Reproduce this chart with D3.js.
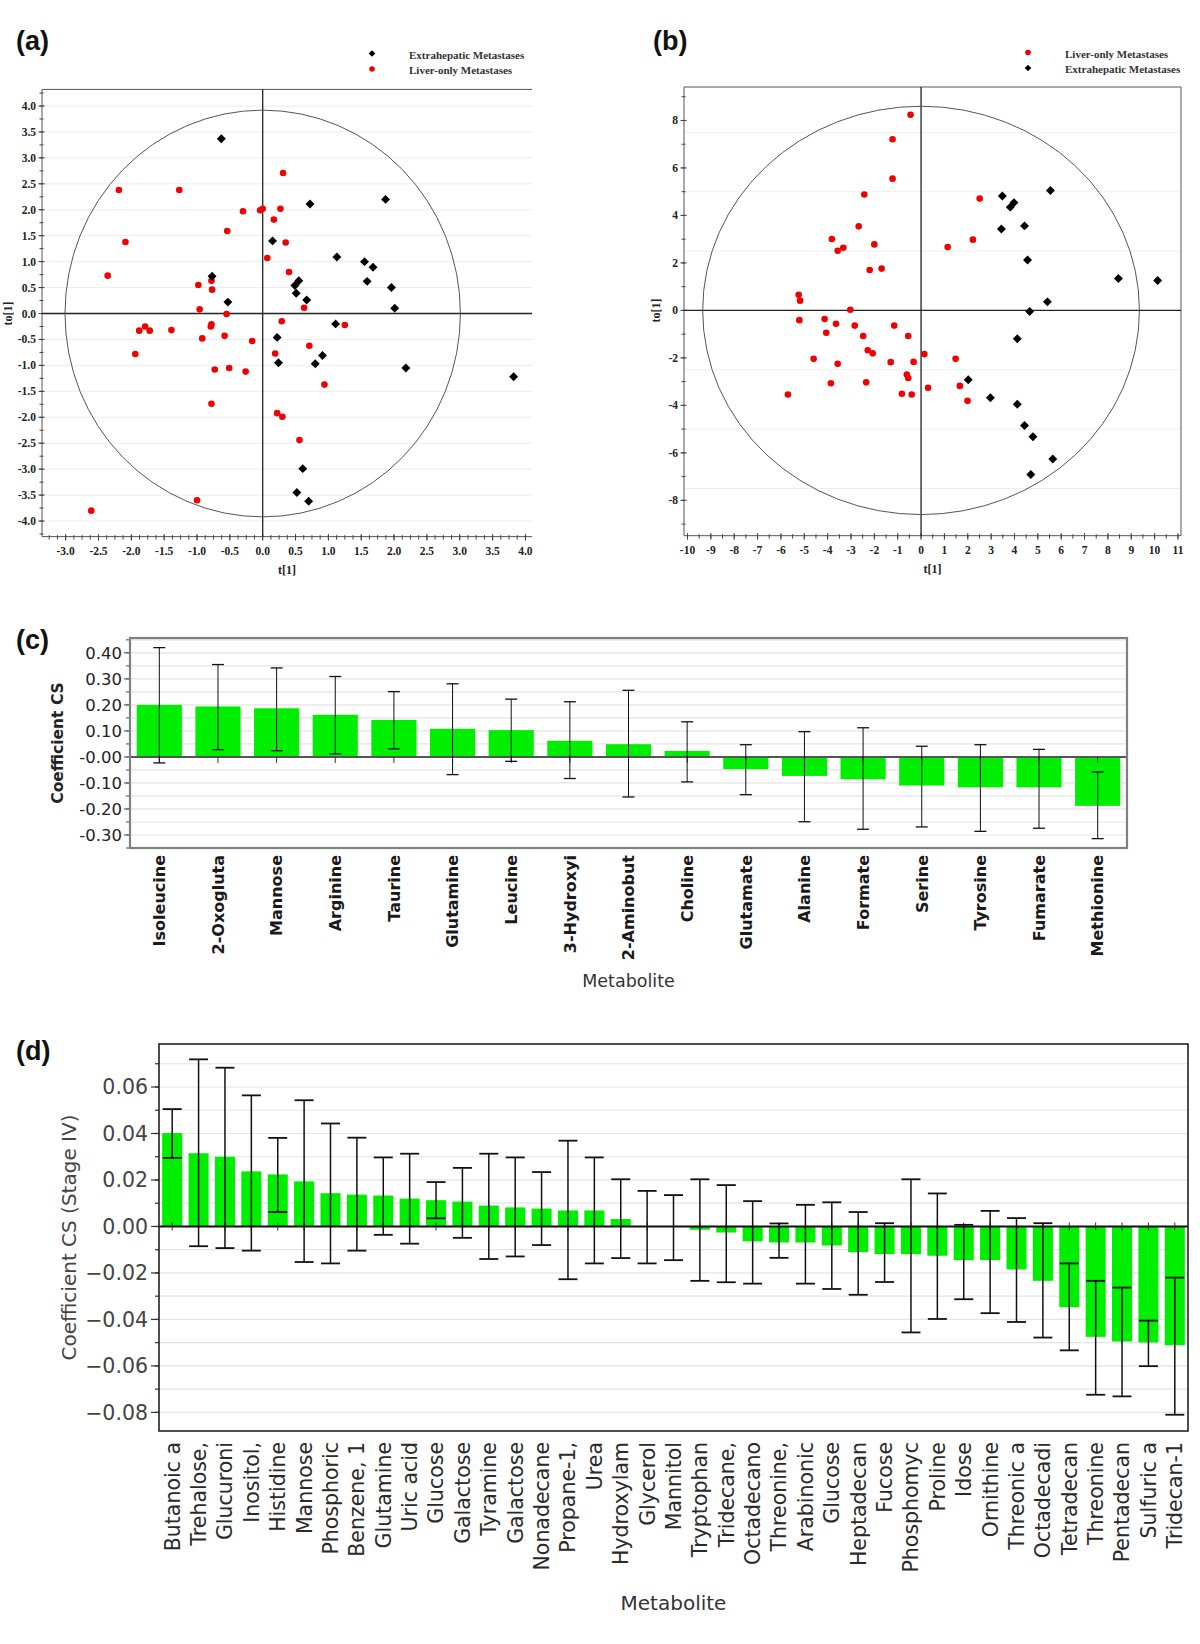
<!DOCTYPE html>
<html><head><meta charset="utf-8">
<script src="https://cdn.jsdelivr.net/npm/d3@7"></script>
<style>body{margin:0;background:#fff}svg{display:block}</style>
</head><body>
<script>
// ---------- Panel (a) data ----------
const aExtraX = [-0.63,0.72,1.87,0.15,1.13,1.55,1.68,1.59,1.96,-0.77,0.49,0.55,0.51,0.67,-0.53,2.01,1.11,0.22,0.24,0.80,0.91,2.18,3.82,0.61,0.52,0.70];
const aExtraY = [3.37,2.11,2.20,1.40,1.09,1.00,0.89,0.62,0.50,0.72,0.54,0.63,0.39,0.26,0.22,0.10,-0.20,-0.46,-0.95,-0.97,-0.81,-1.05,-1.22,-2.99,-3.45,-3.62];
const aLiverX = [0.31,-2.19,-1.27,-0.30,-0.04,0.00,0.27,0.17,-0.54,-2.09,0.35,0.07,-2.36,0.40,-0.98,-0.78,-0.77,-0.96,-0.55,0.63,0.29,-1.88,-1.79,-1.72,-1.39,-0.78,-0.79,-0.92,-0.58,-0.16,1.25,-1.94,0.19,0.71,-0.73,-0.51,-0.26,0.94,-0.78,0.22,0.30,0.56,-1.00,-2.61];
const aLiverY = [2.71,2.38,2.38,1.97,1.99,2.02,2.02,1.81,1.59,1.38,1.37,1.07,0.73,0.80,0.55,0.63,0.46,0.08,-0.01,0.11,-0.15,-0.33,-0.25,-0.33,-0.32,-0.21,-0.25,-0.48,-0.43,-0.53,-0.22,-0.78,-0.77,-0.62,-1.08,-1.05,-1.12,-1.37,-1.74,-1.92,-1.99,-2.44,-3.60,-3.80];
const aXTickLabels = ["-3.0","-2.5","-2.0","-1.5","-1.0","-0.5","0.0","0.5","1.0","1.5","2.0","2.5","3.0","3.5","4.0"];
const aYTickLabels = ["4.0","3.5","3.0","2.5","2.0","1.5","1.0","0.5","0.0","-0.5","-1.0","-1.5","-2.0","-2.5","-3.0","-3.5","-4.0"];
const aEllipse = [3.01, 3.92];
const aLegend = ["Extrahepatic Metastases","Liver-only Metastases"];

// ---------- Panel (b) data ----------
const bExtraX = [3.48,3.82,3.98,5.54,3.44,4.43,4.56,8.45,10.13,5.41,4.65,4.12,2.02,2.97,4.12,4.43,4.79,5.64,4.70];
const bExtraY = [4.82,4.35,4.54,5.05,3.43,3.56,2.12,1.34,1.26,0.36,-0.05,-1.19,-2.92,-3.68,-3.95,-4.85,-5.32,-6.26,-6.91];
const bLiverX = [-0.45,-1.22,-1.22,-2.43,2.51,-2.67,-3.82,2.22,1.14,-3.57,-3.33,-2.00,-1.69,-2.20,-5.24,-5.18,-3.03,-5.21,-4.13,-3.64,-2.84,-1.15,-4.06,-2.48,-0.55,-2.28,-2.07,-4.60,-3.57,-1.30,-0.32,0.14,1.48,-3.86,-2.35,-0.61,-0.55,-5.70,-0.82,-0.40,0.30,1.66,1.99];
const bLiverY = [8.24,7.21,5.55,4.88,4.71,3.54,3.01,2.98,2.67,2.51,2.64,2.78,1.76,1.70,0.66,0.41,0.03,-0.41,-0.36,-0.56,-0.64,-0.64,-0.94,-1.08,-1.08,-1.68,-1.81,-2.04,-2.25,-2.18,-2.17,-1.84,-2.04,-3.07,-3.03,-2.70,-2.85,-3.54,-3.51,-3.54,-3.26,-3.18,-3.81];
const bXTickLabels = ["-10","-9","-8","-7","-6","-5","-4","-3","-2","-1","0","1","2","3","4","5","6","7","8","9","10","11"];
const bYTickLabels = ["8","6","4","2","0","-2","-4","-6","-8"];
const bGridValues = [7.5,5,2.5,-2.5,-5,-7.5];
const bEllipse = [9.35, 8.6];
const bLegend = ["Liver-only Metastases","Extrahepatic Metastases"];

// ---------- Panel (c) data ----------
const cCategories = ["Isoleucine","2-Oxogluta","Mannose","Arginine","Taurine","Glutamine","Leucine","3-Hydroxyi","2-Aminobut","Choline","Glutamate","Alanine","Formate","Serine","Tyrosine","Fumarate","Methionine"];
const cValues  = [0.200,0.194,0.187,0.162,0.142,0.108,0.103,0.062,0.049,0.023,-0.047,-0.073,-0.086,-0.110,-0.117,-0.117,-0.188];
const cErrHigh = [0.420,0.355,0.342,0.309,0.251,0.281,0.222,0.212,0.256,0.135,0.047,0.097,0.112,0.041,0.047,0.029,-0.058];
const cErrLow  = [-0.023,0.028,0.024,0.012,0.031,-0.068,-0.017,-0.083,-0.154,-0.096,-0.145,-0.249,-0.278,-0.269,-0.286,-0.274,-0.314];
const cYTickLabels = ["0.40","0.30","0.20","0.10","-0.00","-0.10","-0.20","-0.30"];

// ---------- Panel (d) data ----------
const dCategories = ["Butanoic a","Trehalose,","Glucuroni","Inositol,","Histidine","Mannose","Phosphoric","Benzene, 1","Glutamine","Uric acid","Glucose","Galactose","Tyramine","Galactose","Nonadecane","Propane-1,","Urea","Hydroxylam","Glycerol","Mannitol","Tryptophan","Tridecane,","Octadecano","Threonine,","Arabinonic","Glucose","Heptadecan","Fucose","Phosphomyc","Proline","Idose","Ornithine","Threonic a","Octadecadi","Tetradecan","Threonine","Pentadecan","Sulfuric a","Tridecan-1"];
const dValues  = [0.0402,0.0315,0.0300,0.0237,0.0224,0.0194,0.0143,0.0137,0.0133,0.0120,0.0113,0.0107,0.0090,0.0082,0.0077,0.0069,0.0069,0.0032,0,0,-0.0014,-0.0026,-0.0064,-0.0069,-0.0069,-0.0082,-0.0111,-0.0119,-0.0119,-0.0126,-0.0145,-0.0145,-0.0185,-0.0234,-0.0347,-0.0475,-0.0495,-0.0499,-0.0511];
const dErrHigh = [0.0505,0.0719,0.0683,0.0564,0.0381,0.0543,0.0443,0.0382,0.0297,0.0313,0.0191,0.0252,0.0313,0.0297,0.0234,0.0369,0.0297,0.0203,0.0153,0.0135,0.0203,0.0178,0.0109,0.0013,0.0093,0.0104,0.0062,0.0014,0.0203,0.0142,0.0007,0.0067,0.0036,0.0014,-0.0159,-0.0234,-0.0263,-0.0405,-0.0220];
const dErrLow  = [0.0295,-0.0085,-0.0093,-0.0104,0.0062,-0.0153,-0.0159,-0.0104,-0.0036,-0.0074,0.0035,-0.0049,-0.0140,-0.0129,-0.0080,-0.0227,-0.0159,-0.0136,-0.0159,-0.0145,-0.0234,-0.0240,-0.0246,-0.0135,-0.0246,-0.0269,-0.0294,-0.0239,-0.0456,-0.0398,-0.0313,-0.0373,-0.0411,-0.0478,-0.0533,-0.0724,-0.0731,-0.0601,-0.0810];
const dYTickLabels = ["0.06","0.04","0.02","0.00","\u22120.02","\u22120.04","\u22120.06","\u22120.08"];

const num = s => +String(s).replace("\u2212","-");
const svg = d3.select("body").append("svg").attr("width",1200).attr("height",1644);
const SERIF = "'Liberation Serif','Times New Roman',serif";
const SANS = "'DejaVu Sans',Verdana,sans-serif";
const GREEN = "#00ee00";

// panel letters
[["(a)",16,50],["(b)",653,50],["(c)",16,649],["(d)",16,1060]].forEach(([t,x,y])=>{
  svg.append("text").attr("x",x).attr("y",y).text(t)
    .attr("font-family","'Liberation Sans',Arial,sans-serif").attr("font-weight","bold")
    .attr("font-size",27).attr("fill","#111");
});

function diamond(g, cx, cy, size){
  g.append("path").attr("d", d3.symbol(d3.symbolSquare, size)())
   .attr("transform",`translate(${cx},${cy}) rotate(45)`).attr("fill","#000");
}

function scatter(o){
  const g = svg.append("g");
  const x = o.x, y = o.y;
  const [xl,xr] = x.range(), [yb,yt] = y.range();
  g.selectAll(null).data(o.grid).join("line")
    .attr("x1",xl).attr("x2",xr).attr("y1",d=>y(d)).attr("y2",d=>y(d))
    .attr("stroke",o.gridColor).attr("stroke-width",1);
  g.append("line").attr("x1",xl).attr("x2",xr).attr("y1",yt).attr("y2",yt).attr("stroke","#555");
  g.append("line").attr("x1",xl).attr("x2",xl).attr("y1",yt).attr("y2",yb).attr("stroke","#555");
  g.append("line").attr("x1",xl).attr("x2",xr).attr("y1",yb).attr("y2",yb).attr("stroke","#555");
  if (o.rightFrame) g.append("line").attr("x1",xr).attr("x2",xr).attr("y1",yt).attr("y2",yb).attr("stroke","#555");
  g.selectAll(null).data(o.xMinor).join("line").attr("x1",d=>x(d)).attr("x2",d=>x(d)).attr("y1",yb-1.5).attr("y2",yb+3).attr("stroke","#444");
  g.selectAll(null).data(o.xLabels).join("line").attr("x1",d=>x(num(d))).attr("x2",d=>x(num(d))).attr("y1",yb-2.5).attr("y2",yb+4).attr("stroke","#444");
  g.selectAll(null).data(o.yMinor).join("line").attr("y1",d=>y(d)).attr("y2",d=>y(d)).attr("x1",xl-2.5).attr("x2",xl+1.5).attr("stroke","#444");
  g.selectAll(null).data(o.yLabels).join("line").attr("y1",d=>y(num(d))).attr("y2",d=>y(num(d))).attr("x1",xl-3.5).attr("x2",xl+2.5).attr("stroke","#444");
  g.selectAll(null).data(o.xLabels).join("text").attr("x",d=>x(num(d))).attr("y",yb+18)
    .attr("text-anchor","middle").text(d=>d)
    .attr("font-family",SERIF).attr("font-weight","bold").attr("font-size",11.5).attr("fill","#222");
  g.selectAll(null).data(o.yLabels).join("text").attr("x",xl-6).attr("y",d=>y(num(d))).attr("dy","0.35em")
    .attr("text-anchor","end").text(d=>d)
    .attr("font-family",SERIF).attr("font-weight","bold").attr("font-size",11.5).attr("fill","#222");
  g.append("text").attr("x",(xl+xr)/2).attr("y",yb+37).attr("text-anchor","middle").text("t[1]")
    .attr("font-family",SERIF).attr("font-weight","bold").attr("font-size",12).attr("fill","#222");
  g.append("text").attr("transform",`translate(${o.yTitleX},${y(0)}) rotate(-90)`).attr("text-anchor","middle").text("to[1]")
    .attr("font-family",SERIF).attr("font-weight","bold").attr("font-size",12).attr("fill","#222");
  g.append("line").attr("x1",x(0)).attr("x2",x(0)).attr("y1",yt).attr("y2",yb).attr("stroke","#222").attr("stroke-width",1.3);
  g.append("line").attr("x1",xl).attr("x2",xr).attr("y1",y(0)).attr("y2",y(0)).attr("stroke","#222").attr("stroke-width",1.3);
  g.append("ellipse").attr("cx",x(0)).attr("cy",y(0))
    .attr("rx",x(o.ellipse[0])-x(0)).attr("ry",y(0)-y(o.ellipse[1]))
    .attr("fill","none").attr("stroke","#555").attr("stroke-width",1);
  g.selectAll(null).data(o.liverX).join("circle").attr("cx",d=>x(d)).attr("cy",(d,i)=>y(o.liverY[i])).attr("r",3.3).attr("fill","#f00000");
  o.extraX.forEach((d,i)=>diamond(g, x(d), y(o.extraY[i]), 40));
  o.legend.forEach((t,i)=>{
    const ly = o.legY + i*15.5;
    const isDiamond = (t === "Extrahepatic Metastases");
    if (isDiamond) diamond(g, o.legX, ly, 22); else g.append("circle").attr("cx",o.legX).attr("cy",ly).attr("r",2.8).attr("fill","#f00000");
    g.append("text").attr("x",o.legX+37).attr("y",ly+1.5).attr("dy","0.35em").text(t)
      .attr("font-family",SERIF).attr("font-weight","bold").attr("font-size",11).attr("fill","#333");
  });
}

// ---------- Panel (a) ----------
{
  const x = d3.scaleLinear().domain([-3.36, 4.10]).range([42, 532]);
  const y = d3.scaleLinear().domain([-4.30, 4.32]).range([536.6, 89.4]);
  scatter({x, y, grid: aYTickLabels.map(num), gridColor:"#ececec", rightFrame:false,
    xLabels: aXTickLabels, yLabels: aYTickLabels,
    xMinor: d3.range(-26, 33).map(i=>i*0.125), yMinor: d3.range(-17, 18).map(i=>i*0.25),
    yTitleX: 12, ellipse: aEllipse, liverX: aLiverX, liverY: aLiverY, extraX: aExtraX, extraY: aExtraY,
    legend: aLegend, legX: 372, legY: 53.5});
}
// ---------- Panel (b) ----------
{
  const x = d3.scaleLinear().domain([-10.15, 11.13]).range([684, 1181]);
  const y = d3.scaleLinear().domain([-9.49, 9.41]).range([535.7, 87]);
  scatter({x, y, grid: bGridValues, gridColor:"#efefef", rightFrame:true,
    xLabels: bXTickLabels, yLabels: bYTickLabels,
    xMinor: d3.range(-20, 23).map(i=>i*0.5), yMinor: d3.range(-9, 10),
    yTitleX: 660, ellipse: bEllipse, liverX: bLiverX, liverY: bLiverY, extraX: bExtraX, extraY: bExtraY,
    legend: bLegend, legX: 1028, legY: 52.5});
}

function bars(o){
  const g = svg.append("g");
  const x = d3.scaleBand().domain(o.cats.map((c,i)=>i)).range(o.xr).paddingInner(o.pad).paddingOuter(o.pad/2);
  const y = d3.scaleLinear().domain(o.yd).range(o.yr);
  const [xl,xr] = o.xr, [yb,yt] = o.yr;
  g.selectAll(null).data(o.grid).join("line").attr("x1",xl).attr("x2",xr).attr("y1",d=>y(d)).attr("y2",d=>y(d))
    .attr("stroke","#e4e4e4").attr("stroke-width",1.2);
  g.selectAll(null).data(o.grid).join("line").attr("x1",xl-o.minorTick).attr("x2",xl).attr("y1",d=>y(d)).attr("y2",d=>y(d)).attr("stroke",o.tickColor).attr("stroke-width",1.2);
  g.selectAll(null).data(o.yLabels).join("line").attr("x1",xl-o.majorTick).attr("x2",xl).attr("y1",d=>y(num(d))).attr("y2",d=>y(num(d))).attr("stroke",o.tickColor).attr("stroke-width",1.2);
  g.selectAll(null).data(o.yLabels).join("text").attr("x",o.labelX).attr("y",d=>y(num(d))).attr("dy","0.36em")
    .attr("text-anchor","end").text(d=>d).attr("font-family",SANS).attr("font-size",o.yLabelSize)
    .attr("font-weight",o.yLabelWeight).attr("fill",o.yLabelColor);
  g.selectAll(null).data(o.values).join("rect")
    .attr("x",(d,i)=>x(i)).attr("width",x.bandwidth())
    .attr("y",d=>y(Math.max(0,d))).attr("height",d=>Math.abs(y(d)-y(0))).attr("fill",GREEN);
  g.append("line").attr("x1",xl).attr("x2",xr).attr("y1",y(0)).attr("y2",y(0)).attr("stroke",o.zeroColor).attr("stroke-width",2);
  g.selectAll(null).data(o.values).join("line").attr("x1",(d,i)=>x(i)+x.bandwidth()/2).attr("x2",(d,i)=>x(i)+x.bandwidth()/2)
    .attr("y1",y(0)+o.xTickUp).attr("y2",y(0)+o.xTickDown).attr("stroke","#333").attr("stroke-width",1);
  const cx = i => x(i)+x.bandwidth()/2;
  g.selectAll(null).data(o.values).join("line").attr("x1",(d,i)=>cx(i)).attr("x2",(d,i)=>cx(i))
    .attr("y1",(d,i)=>y(o.hi[i])).attr("y2",(d,i)=>y(o.lo[i])).attr("stroke","#111").attr("stroke-width",o.errW);
  [o.hi,o.lo].forEach(arr=>{
    g.selectAll(null).data(arr).join("line").attr("x1",(d,i)=>cx(i)-o.cap/2).attr("x2",(d,i)=>cx(i)+o.cap/2)
      .attr("y1",d=>y(d)).attr("y2",d=>y(d)).attr("stroke","#111").attr("stroke-width",o.errW+0.3);
  });
  g.append("rect").attr("x",xl).attr("y",yt).attr("width",xr-xl).attr("height",yb-yt)
    .attr("fill","none").attr("stroke",o.frameColor).attr("stroke-width",o.frameW);
  g.selectAll(null).data(o.cats).join("text")
    .attr("transform",(d,i)=>`translate(${cx(i)},${yb+o.catGap}) rotate(-90)`)
    .attr("text-anchor","end").attr("dy","0.36em").text(d=>d)
    .attr("font-family",SANS).attr("font-size",o.catSize).attr("font-weight",o.catWeight).attr("fill",o.catColor);
  g.append("text").attr("x",(xl+xr)/2).attr("y",o.xTitleY).attr("text-anchor","middle").text("Metabolite")
    .attr("font-family",SANS).attr("font-size",o.xTitleSize).attr("fill","#333");
  g.append("text").attr("transform",`translate(${o.yTitleX},${(yb+yt)/2}) rotate(-90)`).attr("text-anchor","middle")
    .attr("dy","0.35em").text(o.yTitle)
    .attr("font-family",SANS).attr("font-size",o.yTitleSize).attr("font-weight",o.yTitleWeight).attr("fill",o.yTitleColor);
}

// ---------- Panel (c) ----------
bars({cats:cCategories, values:cValues, hi:cErrHigh, lo:cErrLow,
  xr:[130,1127], yr:[848,638], yd:[-0.35,0.457], pad:0.23,
  grid: d3.range(-7, 10).map(i=>i*0.05), yLabels:cYTickLabels,
  minorTick:4, majorTick:6, tickColor:"#666", labelX:122, yLabelSize:16.5, yLabelWeight:"normal", yLabelColor:"#222",
  zeroColor:"#555", xTickUp:0, xTickDown:6, errW:1, cap:12, frameColor:"#808080", frameW:2.2,
  catGap:7, catSize:16, catWeight:"bold", catColor:"#1a1a1a", xTitleY:987, xTitleSize:17.5,
  yTitle:"Coefficient CS", yTitleX:58, yTitleSize:15.5, yTitleWeight:"bold", yTitleColor:"#222"});

// ---------- Panel (d) ----------
bars({cats:dCategories, values:dValues, hi:dErrHigh, lo:dErrLow,
  xr:[159,1188], yr:[1431,1044], yd:[-0.088,0.0785], pad:0.24,
  grid: d3.range(-8, 8).map(i=>i*0.01), yLabels:dYTickLabels,
  minorTick:4, majorTick:8, tickColor:"#333", labelX:148, yLabelSize:20.5, yLabelWeight:"normal", yLabelColor:"#444",
  zeroColor:"#111", xTickUp:-4, xTickDown:4, errW:1.5, cap:19, frameColor:"#222", frameW:1.6,
  catGap:11, catSize:20.5, catWeight:"normal", catColor:"#2a2a2a", xTitleY:1610, xTitleSize:20,
  yTitle:"Coefficient CS (Stage IV)", yTitleX:69, yTitleSize:20, yTitleWeight:"normal", yTitleColor:"#444"});
</script>
</body></html>
